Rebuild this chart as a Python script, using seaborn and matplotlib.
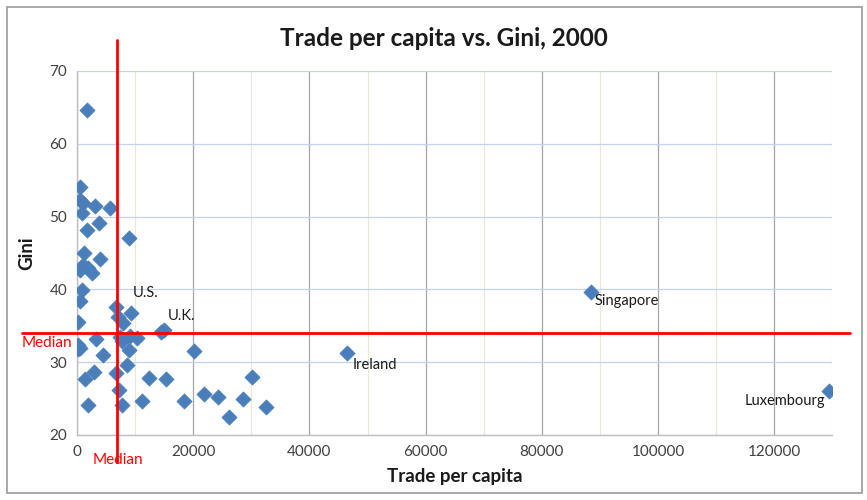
import pandas as pd
import matplotlib
matplotlib.use("Agg")
import matplotlib.pyplot as plt
import seaborn as sns
from matplotlib.patches import Rectangle
from matplotlib.ticker import MultipleLocator

# Data
trade = [1700, 500, 500, 1000, 3100, 5700, 900, 1700, 3800, 8900,
         1200, 4000, 1100, 1900, 2600, 500, 900, 500, 6700, 9300,
         200, 7000, 7900, 14400, 14900, 9100, 10300, 7700, 7400, 3300,
         200, 500, 100, 8900, 4500, 20100, 8600, 1400, 2900, 6700,
         12400, 15300, 7200, 1900, 7700, 11200, 18400, 21800, 24200, 26100,
         28500, 30200, 32500, 46400, 88400, 129500]
gini = [64.6, 54.1, 52.3, 51.9, 51.5, 51.2, 50.5, 48.2, 49.1, 47.1,
        45.0, 44.2, 43.4, 42.9, 42.2, 42.7, 39.9, 38.4, 37.6, 36.8,
        35.5, 36.2, 35.4, 34.1, 34.4, 33.6, 33.3, 32.9, 33.5, 33.2,
        32.4, 32.0, 31.8, 31.7, 31.0, 31.5, 29.6, 27.7, 28.7, 28.5,
        27.8, 27.7, 26.2, 24.1, 24.1, 24.7, 24.7, 25.6, 25.2, 22.5,
        24.9, 28.0, 23.8, 31.3, 39.6, 26.0]
median_trade = 6900
median_gini = 34.0

labels = ["U.S.", "U.K.", "Ireland", "Singapore", "Luxembourg"]
label_x = [9300, 14900, 46400, 88400, 129500]
label_y = [36.8, 34.4, 31.3, 39.6, 26.0]

df = pd.DataFrame({"trade": trade, "gini": gini})

sns.set_style("white")
plt.rcParams['font.family'] = ['Lato', 'DejaVu Sans']

fig = plt.figure(figsize=(8.67, 5), dpi=100)
ax = fig.add_axes([0.0888, 0.13, 0.8712, 0.728])

ax.set_xlim(0, 130000)
ax.set_ylim(20, 70)
ax.xaxis.set_major_locator(MultipleLocator(20000))
ax.xaxis.set_minor_locator(MultipleLocator(10000))
ax.yaxis.set_major_locator(MultipleLocator(10))

ax.grid(which="major", axis="x", color="#a6a6a6", lw=0.9)
ax.grid(which="minor", axis="x", color="#ebe8d8", lw=0.9)
ax.grid(which="major", axis="y", color="#c3d3ec", lw=0.9)
ax.set_axisbelow(True)

sns.scatterplot(data=df, x="trade", y="gini", marker="D", s=60,
                color="#4a7ebb", edgecolor="#4a7ebb", linewidth=0.5, ax=ax, zorder=3)

for sp in ["top", "right"]:
    ax.spines[sp].set_visible(False)
for sp in ["left", "bottom"]:
    ax.spines[sp].set_color("#bfbfbf")
    ax.spines[sp].set_linewidth(1)

ax.tick_params(axis="both", which="both", length=0, labelsize=11, colors="#404040", pad=7)

ax.set_xlabel("Trade per capita", fontsize=13.5, fontweight="bold", color="#1a1a1a", labelpad=7)
ax.set_ylabel("Gini", fontsize=13.5, fontweight="bold", color="#1a1a1a", labelpad=10)
fig.text(0.512, 0.924, "Trade per capita vs. Gini, 2000", ha="center", va="center",
         fontsize=17.5, fontweight="bold", color="#1a1a1a")

# median lines extend past the plot area
ax.plot([median_trade, median_trade], [16.3, 74.2], color="red", lw=2, clip_on=False, zorder=4)
ax.plot([-9500, 133000], [median_gini, median_gini], color="red", lw=2, clip_on=False, zorder=4)
ax.text(-850, median_gini - 0.4, "Median", color="red", fontsize=11, ha="right", va="top")
ax.text(median_trade + 150, 16.6, "Median", color="red", fontsize=11, ha="center", va="center")

# country labels
offsets = {"U.S.": (1, 9, "left", "bottom"), "U.K.": (3, 5, "left", "bottom"),
           "Ireland": (4, -4, "left", "top"), "Singapore": (3, -1, "left", "top"),
           "Luxembourg": (-3, -2, "right", "top")}
for name, lx, ly in zip(labels, label_x, label_y):
    dx, dy, ha, va = offsets[name]
    ax.annotate(name, (lx, ly), xytext=(dx, dy), textcoords="offset points",
                ha=ha, va=va, fontsize=10.5, color="#1a1a1a")

# chart frame
fig.patches.append(Rectangle((7 / 867, 7 / 500), 855 / 867, 486 / 500, transform=fig.transFigure,
                             fill=False, edgecolor="#9a9a9a", lw=1.2))

fig.savefig("out.png", dpi=100)
